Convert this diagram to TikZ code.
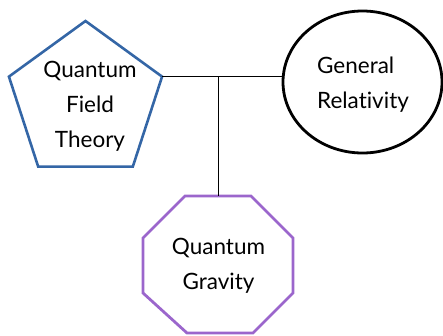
\documentclass[tikz,border=0pt]{standalone}
\usepackage{fontspec}
\setmainfont{Lato}[Ligatures=NoCommon]
\usetikzlibrary{shapes.geometric,calc}
\definecolor{qftblue}{RGB}{52,102,166}
\definecolor{qgpurple}{RGB}{155,102,204}
\tikzset{
  lbl/.style={font=\fontsize{22.5}{35}\selectfont, align=center, inner sep=0pt},
  conn/.style={draw=black, line width=0.8pt},
}
\begin{document}
\begin{tikzpicture}[x=1pt,y=-1pt]
\useasboundingbox (0,0) rectangle (443,335);
% pentagon
\node[regular polygon, regular polygon sides=5, minimum size=161pt, inner sep=0pt, outer sep=0pt,
      draw=qftblue, line width=2.6pt] (qft) at (85.5,101.5) {};
\node[lbl] (qftt) at (90,106) {Quantum\\Field\\Theory};
% ellipse
\node[ellipse, minimum width=159pt, minimum height=142pt, inner sep=0pt, outer sep=0pt,
      draw=black, line width=2.8pt] (gr) at (362.5,82) {};
\node[lbl, align=left] (grt) at (363,85) {General\\Relativity};
% octagon
\node[rectangle, minimum width=150pt, minimum height=137pt, inner sep=0pt, outer sep=0pt] (qg) at (218,264.5) {};
\draw[qgpurple, line width=2.8pt, line join=miter]
  ([xshift=42pt]qg.north west) -- ([xshift=-42pt]qg.north east) -- ([yshift=-42pt]qg.north east)
  -- ([yshift=40pt]qg.south east) -- ([xshift=-40pt]qg.south east) -- ([xshift=44pt]qg.south west)
  -- ([yshift=40pt]qg.south west) -- ([yshift=-42pt]qg.north west) -- cycle;
\node[lbl] (qgt) at (218.5,266) {Quantum\\Gravity};
% connectors
\coordinate (j) at (qg.north |- qft.corner 5);
\draw[conn] (qft.corner 5) -- (gr.west |- qft.corner 5);
\draw[conn] (j) -- (qg.north);
\end{tikzpicture}
\end{document}
